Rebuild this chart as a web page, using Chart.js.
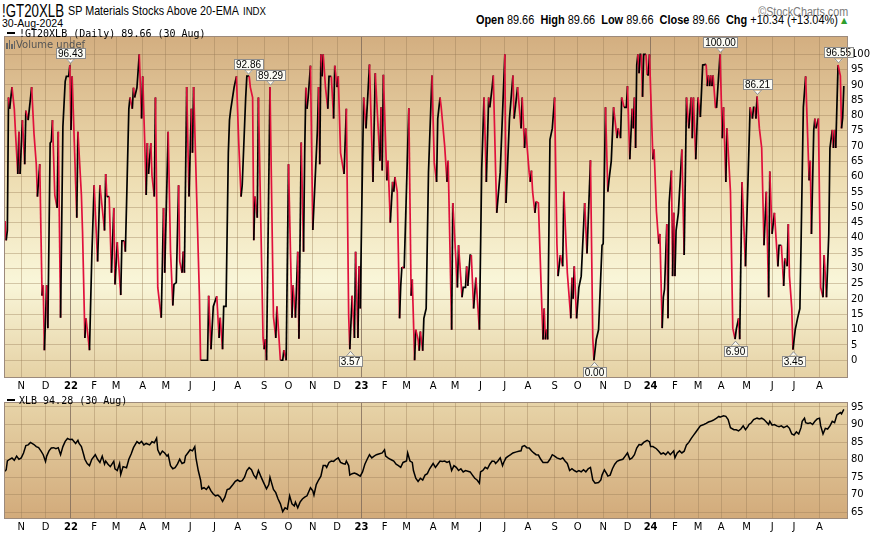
<!DOCTYPE html>
<html>
<head>
<meta charset="utf-8">
<title>!GT20XLB SP Materials Stocks Above 20-EMA</title>
<script src="https://cdn.jsdelivr.net/npm/chart.js"></script>
<style>
  body { margin: 0; width: 873px; height: 533px; overflow: hidden; position: relative; background: #fff; font-family: "DejaVu Sans", sans-serif; }
  .abs { position: absolute; white-space: nowrap; line-height: 1; }
  .hd { font-family: "Liberation Sans", Arial, sans-serif; transform-origin: left top; }
  .hd.r { transform-origin: right top; }
  #sym { left: 2px; top: 2px; font-size: 18px; }
  #name { left: 68px; top: 4px; font-size: 13px; }
  #exch { left: 243px; top: 7px; font-size: 10px; }
  #copy { right: 25px; top: 6px; font-size: 12px; color: #7a7a7a; }
  #date { left: 2px; top: 18px; font-size: 11px; }
  #quote { right: 35px; top: 14px; font-size: 12px; }
  #tri { left: 841px; top: 17px; font-size: 8px; color: #2f9e2f; }
  canvas { position: absolute; }
  #topChart { left: 4px; top: 27px; }
  #xlbChart { left: 4px; top: 393px; }
  .legend { font-family: "DejaVu Sans Mono", monospace; font-size: 10px; color: #000; z-index: 2; }
  .dash { display: inline-block; width: 8px; height: 2px; background: #000; vertical-align: middle; margin-right: 4px; position: relative; top: -1px; }
  #leg1 { left: 7px; top: 29px; }
  #leg2 { left: 6px; top: 40px; font-family: "DejaVu Sans", sans-serif; font-size: 10px; color: #555; }
  #leg3 { left: 7px; top: 396px; }
  .bars { display: inline-block; width: 9px; height: 9px; position: relative; vertical-align: -1px; margin-right: 1px; }
  .bars i { position: absolute; bottom: 0; width: 1.5px; background: #666; }
</style>
</head>
<body>
<div class="abs hd" id="sym" data-w="62">!GT20XLB</div>
<div class="abs hd" id="name" data-w="171">SP Materials Stocks Above 20-EMA</div>
<div class="abs hd" id="exch" data-w="23">INDX</div>
<div class="abs hd r" id="copy" data-w="90">&copy;StockCharts.com</div>
<div class="abs hd" id="date" data-w="61">30-Aug-2024</div>
<div class="abs hd r" id="quote" data-w="362"><b>Open</b> 89.66 &nbsp;<b>High</b> 89.66 &nbsp;<b>Low</b> 89.66 &nbsp;<b>Close</b> 89.66 &nbsp;<b>Chg</b> +10.34 (+13.04%)</div>
<div class="abs" id="tri">&#9650;</div>

<canvas id="topChart" width="869" height="365"></canvas>
<canvas id="xlbChart" width="869" height="140"></canvas>

<div class="abs legend" id="leg1"><span class="dash"></span>!GT20XLB (Daily) 89.66 (30 Aug)</div>
<div class="abs legend" id="leg2"><span class="bars"><i style="left:0;height:6px"></i><i style="left:2.5px;height:9px"></i><i style="left:5px;height:5px"></i><i style="left:7.5px;height:8px"></i></span>Volume undef</div>
<div class="abs legend" id="leg3"><span class="dash"></span>XLB 94.28 (30 Aug)</div>

<script>
// squeeze the header texts to the narrow look of the original
document.querySelectorAll('[data-w]').forEach(el => {
  const w = el.getBoundingClientRect().width;
  el.style.transform = 'scaleX(' + (el.dataset.w / w) + ')';
});

// x values are trading days counted from 12-Oct-2021 (day 725 = 30-Aug-2024)
const monthStarts = [14, 35, 57, 77, 96, 119, 139, 160, 181, 201, 224, 245, 266, 287, 308, 328, 347, 370, 389, 411, 432, 452, 475, 495, 517, 538, 558, 579, 599, 619, 641, 663, 682, 704];
const monthLabels = ['N', 'D', '22', 'F', 'M', 'A', 'M', 'J', 'J', 'A', 'S', 'O', 'N', 'D', '23', 'F', 'M', 'A', 'M', 'J', 'J', 'A', 'S', 'O', 'N', 'D', '24', 'F', 'M', 'A', 'M', 'J', 'J', 'A'];

const breadthTicks = [0, 5, 10, 15, 20, 25, 30, 35, 40, 45, 50, 55, 60, 65, 70, 75, 80, 85, 90, 95, 100];
const xlbTicks = [65, 70, 75, 80, 85, 90, 95];

// !GT20XLB - % of S&P materials stocks above their 20-day EMA
const breadthDays = [
  0, 1, 2, 3, 4, 6, 8, 9, 11, 12, 13, 15, 17, 18, 20, 23, 25, 27, 28, 30,
  32, 33, 34, 36, 37, 39, 40, 41, 43, 45, 46, 48, 50, 52, 53, 55, 56, 57, 58, 62,
  63, 66, 67, 69, 70, 73, 74, 75, 77, 80, 82, 86, 87, 88, 90, 92, 94, 95, 97, 100,
  101, 103, 104, 105, 107, 108, 110, 111, 112, 114, 116, 118, 119, 121, 122, 123, 124, 126, 127, 129,
  130, 132, 135, 137, 138, 141, 143, 145, 146, 148, 150, 151, 153, 154, 155, 157, 159, 161, 162, 163,
  168, 169, 175, 176, 178, 180, 183, 185, 186, 188, 189, 191, 193, 194, 195, 198, 200, 202, 204, 205,
  208, 209, 211, 212, 214, 215, 216, 218, 219, 223, 224, 225, 226, 229, 232, 234, 235, 238, 240, 241,
  243, 245,
  248, 249, 251, 253, 254, 256, 258, 259, 260, 261, 262, 264, 266, 270, 271, 272, 273, 274, 275, 277,
  279, 280, 282, 284, 285, 287, 288, 290, 293, 295, 297, 298, 300, 302, 303, 305, 306, 307, 309, 310,
  312, 315, 318, 320, 324, 325, 326, 327, 330, 331, 333, 335, 336, 337, 339, 341, 342, 343, 345, 349,
  351, 352, 354, 355, 357, 358, 359, 361, 362, 364, 366, 369, 371, 373, 374, 376, 377, 380, 382, 383,
  386, 387, 391, 392, 395, 396, 398, 399, 400, 402, 403, 405, 407, 410, 412, 414, 416, 418, 419, 421,
  422, 424, 425, 428, 432, 433, 436, 439, 440, 443, 446, 447, 449, 450, 453, 454, 455, 456, 458, 459,
  461, 464, 465, 466, 467, 468, 469, 471, 473, 475, 477, 478, 480, 482, 483, 486, 489, 490, 491, 492,
  494, 496, 498, 501, 503, 506, 508, 509, 511, 513, 516, 517, 519, 521, 522, 524, 526, 528, 529, 530,
  532, 533, 535, 537, 538, 540, 542, 543, 544, 545, 546, 547, 548, 549, 550, 551, 552, 554, 555, 556,
  557, 560, 561, 563, 565, 566, 568, 569, 570, 572, 573, 574, 576, 577, 578, 579, 580, 582, 585, 587,
  589, 591, 593, 594, 595, 597, 599, 601, 603, 606, 607, 608, 609, 610, 611, 612, 614, 615, 618, 620,
  621, 623, 624, 627, 629, 631, 632, 634, 635, 637, 640, 644, 646, 647, 648, 649, 650, 652, 654, 656,
  658, 660, 661, 663, 665, 668, 669, 671, 673, 674, 676, 677, 678, 680, 681, 683, 685, 687, 688, 690,
  692, 695, 696, 697, 699, 700, 701, 703, 705, 707, 708, 710, 712, 713, 715, 716, 717, 718, 720, 722,
  723, 724, 725
];
const breadthValues = [
  45.5, 39.2, 42.4, 85.9, 82.2, 89.3, 82.2, 74.7, 60.9, 74.7, 60.9, 78.5, 64.1, 81.6, 78.5, 89.3, 74.2, 64.1, 53.5, 64.1,
  21.1, 24.5, 3.3, 24.5, 10.5, 71.0, 71.5, 78.5, 54.0, 49.8, 74.7, 13.9, 76.3, 91.2, 92.8, 92.8, 96.43, 75.3, 92.8, 46.6,
  74.7, 54.0, 41.8, 7.3, 13.7, 3.3, 19.0, 33.9, 57.2, 32.3, 57.2, 42.4, 60.9, 53.5, 53.5, 28.6, 49.8, 24.8, 38.6, 21.3,
  39.0, 39.0, 35.5, 50.8, 82.2, 85.9, 82.2, 89.1, 85.9, 89.1, 100, 79.0, 92.8, 67.8, 54.0, 71.0, 60.9, 71.0, 60.4, 53.5,
  85.9, 23.8, 13.9, 49.8, 28.6, 74.7, 36.0, 17.9, 24.8, 25.4, 57.2, 32.3, 28.6, 35.5, 28.6, 89.3, 53.5, 82.2, 67.8, 89.3,
  21.1, 0, 0, 21.1, 3.6, 17.6, 20.9, 7.3, 13.9, 3.6, 17.6, 17.6, 67.8, 78.5, 81.8, 89.3, 92.8, 71.0, 53.5, 57.2,
  85.9, 92.86, 92.86, 89.3, 85.9, 39.2, 53.5, 46.6, 85.9, 7.3, 3.6, 6.8, 0, 89.29, 14.2, 7.3, 17.6, 0, 0, 3.3,
  0, 64.1,
  13.9, 24.5, 13.9, 35.5, 7.0, 71.2, 35.5, 67.8, 89.1, 82.2, 85.9, 96.3, 42.6, 75.3, 89.3, 64.1, 100, 92.8, 100, 89.1,
  82.2, 92.8, 92.8, 79.0, 96.3, 89.3, 92.8, 67.8, 60.9, 82.2, 14.8, 3.57, 21.1, 7.3, 35.5, 7.3, 30.7, 16.9, 65.2, 85.9,
  75.8, 96.7, 58.3, 93.8, 65.2, 82.7, 62.0, 93.3, 58.8, 65.2, 45.0, 58.3, 55.1, 59.9, 55.1, 13.7, 24.3, 30.5, 30.1, 82.4,
  21.1, 26.4, 0, 10.0, 6.8, 3.1, 9.4, 3.1, 13.7, 16.9, 61.5, 93.1, 64.6, 58.3, 79.0, 85.9, 82.7, 70.0, 58.3, 65.2,
  10.0, 51.4, 23.8, 37.6, 20.6, 23.8, 23.8, 30.7, 24.3, 34.4, 34.4, 16.9, 27.0, 10.0, 62.5, 85.9, 58.3, 85.9, 82.7, 89.1,
  93.1, 62.0, 48.2, 61.5, 100, 51.4, 79.0, 93.1, 79.0, 89.3, 75.8, 85.9, 69.4, 75.8, 61.5, 58.3, 62.0, 55.1, 48.2, 51.9,
  51.4, 16.9, 6.8, 16.9, 6.8, 10.0, 6.8, 72.1, 75.8, 85.9, 38.1, 27.5, 34.4, 30.7, 55.1, 28.6, 13.7, 27.0, 20.1, 30.7,
  13.7, 23.8, 27.5, 51.4, 34.9, 65.4, 7.3, 0, 6.8, 10.0, 37.6, 38.1, 82.7, 55.1, 58.8, 65.2, 82.7, 75.8, 72.6, 75.8,
  72.6, 85.9, 82.7, 82.7, 89.6, 65.7, 82.2, 75.8, 85.9, 69.4, 96.5, 100, 93.8, 100, 100, 86.1, 100, 100, 93.3, 93.3,
  100, 65.7, 68.9, 48.7, 38.1, 41.3, 10.5, 20.6, 23.2, 44.5, 13.7, 51.4, 62.0, 27.5, 48.2, 27.5, 42.4, 48.2, 68.9, 34.4,
  85.9, 75.8, 85.9, 72.6, 85.9, 65.7, 85.9, 79.5, 96.5, 96.7, 89.6, 93.1, 89.6, 93.1, 89.6, 93.1, 82.7, 82.5, 100, 72.6,
  82.7, 58.3, 75.8, 55.1, 10.5, 6.9, 10.0, 13.7, 6.9, 58.3, 30.7, 82.7, 79.0, 82.7, 82.7, 79.0, 86.21, 75.8, 69.4, 37.6,
  55.1, 20.6, 61.7, 41.3, 48.2, 30.7, 37.6, 37.6, 24.3, 33.3, 30.7, 44.5, 27.5, 16.9, 3.45, 10.0, 13.7, 16.9, 37.6, 82.7,
  92.8, 58.8, 65.2, 41.3, 75.3, 79.0, 75.8, 79.0, 23.8, 20.6, 34.4, 20.6, 41.3, 69.4, 75.3, 69.4, 75.3, 69.4, 96.55, 93.0,
  75.8, 79.32, 89.66
];

// XLB closes
const xlbDays = [
  0, 1, 2, 4, 6, 8, 10, 12, 14, 16, 18, 20, 22, 25, 27, 29, 31, 33, 35, 36,
  38, 40, 42, 44, 46, 48, 50, 52, 54, 56, 58, 61, 63, 64, 66, 68, 69, 71, 73, 75,
  78, 80, 82, 84, 86, 87, 89, 91, 94, 95, 97, 99, 100, 102, 105, 107, 109, 111, 114, 116,
  118, 120, 122, 125, 127, 129, 131, 132, 134, 136, 138, 140, 141, 143, 145, 147, 149, 151, 153, 155,
  156, 158, 160, 162, 164, 165, 167, 169, 170, 172, 174, 176, 178, 180, 182, 184, 186, 188, 190, 192,
  194, 197, 199, 201, 203, 205, 207, 209, 211, 213, 215, 217, 219, 221, 223, 226, 228, 229, 230, 232,
  234, 236, 238, 240, 242, 244, 246, 248, 250, 251, 253, 255, 257, 259, 261, 264, 266, 267, 269, 271,
  273, 275, 277, 278, 280, 282, 284, 286, 288, 290, 292, 294, 295, 297, 298, 300, 302, 304, 307, 309,
  311, 313, 315, 317, 319, 321, 323, 326, 328, 329, 331, 333, 336, 338, 340, 342, 344, 347, 348, 350,
  352, 353, 355, 357, 359, 361, 363, 365, 367, 370, 372, 374, 376, 378, 380, 382, 384, 385, 386, 388,
  390, 392, 394, 396, 398, 400, 402, 404, 406, 408, 410, 411, 413, 415, 417, 419, 421, 423, 424, 426,
  428, 430, 431, 433, 435, 437, 439, 442, 444, 446, 447, 449, 451, 453, 455, 457, 459, 461, 463, 465,
  467, 469, 471, 473, 475, 477, 480, 482, 484, 486, 488, 490, 492, 494, 496, 498, 500, 502, 504, 506,
  507, 508, 510, 513, 515, 516, 518, 520, 521, 523, 525, 527, 529, 531, 534, 536, 538, 540, 542, 544,
  546, 548, 550, 552, 555, 557, 558, 560, 563, 565, 567, 569, 571, 573, 575, 578, 579, 581, 583, 585,
  587, 589, 591, 593, 595, 597, 599, 601, 604, 606, 608, 610, 612, 615, 617, 618, 621, 623, 625, 627,
  630, 632, 634, 636, 638, 640, 642, 643, 645, 647, 650, 652, 654, 656, 658, 660, 661, 663, 665, 667,
  669, 671, 673, 676, 678, 680, 682, 684, 686, 688, 689, 691, 692, 694, 696, 698, 700, 702, 704, 705,
  707, 709, 711, 713, 715, 717, 719, 722, 723, 725
];
const xlbValues = [
  76.7, 77.1, 79.6, 80.1, 80.5, 79.8, 81.0, 80.1, 80.5, 81.9, 84.0, 84.2, 84.9, 84.3, 83.7, 83.4, 82.5, 81.4, 79.5, 81.0,
  82.5, 83.3, 83.4, 83.1, 83.4, 81.4, 83.7, 85.2, 86.0, 85.7, 85.8, 84.6, 85.5, 84.6, 83.7, 81.4, 80.1, 78.9, 78.3, 80.1,
  81.4, 80.1, 79.2, 81.0, 78.7, 79.6, 78.7, 78.0, 79.5, 77.4, 76.9, 78.9, 75.8, 78.0, 77.7, 80.1, 81.6, 83.4, 85.1, 84.6,
  85.2, 84.2, 84.6, 84.2, 85.1, 84.8, 86.1, 82.8, 81.4, 82.4, 81.9, 81.0, 81.4, 78.3, 77.4, 77.7, 78.7, 80.1, 78.9, 79.2,
  81.0, 81.9, 82.8, 82.5, 83.7, 80.5, 76.9, 74.2, 71.7, 72.0, 71.5, 72.4, 71.1, 70.2, 69.7, 69.9, 69.3, 68.1, 69.3, 71.5,
  71.7, 72.9, 73.8, 74.2, 73.8, 74.0, 75.0, 76.9, 77.7, 77.1, 75.6, 74.7, 76.9, 75.3, 73.8, 71.7, 72.9, 75.0, 73.8, 71.5,
  70.6, 68.8, 67.4, 65.2, 66.3, 65.9, 69.7, 67.4, 66.8, 67.9, 66.3, 67.9, 68.8, 69.3, 69.7, 72.0, 71.1, 69.9, 72.9, 74.2,
  75.3, 78.3, 78.3, 77.8, 79.2, 79.6, 79.5, 80.1, 80.5, 79.2, 78.9, 78.7, 79.6, 78.3, 75.6, 76.0, 76.2, 75.9, 75.3, 76.5,
  78.7, 80.1, 81.4, 80.5, 81.0, 81.4, 81.6, 81.9, 82.8, 81.0, 80.5, 80.1, 79.6, 78.7, 78.3, 77.8, 79.2, 79.6, 81.9, 79.6,
  79.2, 76.9, 74.7, 73.8, 74.7, 74.2, 75.6, 76.0, 77.4, 78.9, 77.8, 78.7, 79.6, 79.5, 79.6, 79.2, 79.5, 78.3, 76.9, 78.3,
  77.8, 76.9, 77.4, 76.5, 76.9, 76.7, 76.5, 75.6, 74.7, 74.2, 73.3, 76.5, 76.9, 77.8, 77.4, 78.7, 79.6, 79.5, 78.9, 79.6,
  80.5, 78.3, 79.2, 80.5, 81.0, 81.4, 81.9, 82.2, 82.4, 82.5, 83.7, 84.0, 83.4, 83.3, 82.5, 81.9, 81.4, 81.3, 80.1, 79.2,
  79.2, 79.2, 80.1, 81.4, 81.0, 80.5, 80.1, 80.5, 79.6, 78.9, 76.9, 77.4, 76.9, 76.5, 76.9, 76.5, 77.1, 76.5, 77.4, 77.8,
  76.0, 74.2, 73.3, 73.5, 74.2, 75.6, 77.1, 76.0, 75.3, 75.6, 77.4, 78.7, 79.5, 79.8, 80.1, 81.0, 81.9, 80.1, 80.5, 81.4,
  83.3, 84.3, 84.2, 84.9, 85.5, 85.1, 83.7, 83.7, 83.1, 82.4, 81.6, 81.9, 81.4, 82.2, 81.4, 82.5, 80.5, 81.9, 82.5, 81.9,
  82.4, 84.2, 84.9, 86.0, 86.9, 87.8, 88.7, 89.6, 90.0, 90.3, 90.7, 90.9, 91.2, 91.8, 92.3, 92.1, 92.5, 92.3, 91.4, 89.1,
  88.5, 88.5, 88.2, 88.7, 89.6, 88.5, 89.4, 90.0, 90.5, 91.4, 91.8, 91.6, 91.8, 91.4, 90.7, 90.0, 90.9, 89.8, 90.0, 89.6,
  89.4, 89.6, 89.1, 89.6, 88.9, 87.3, 87.0, 87.9, 87.3, 89.1, 90.9, 91.8, 90.5, 90.3, 90.5, 90.0, 90.9, 91.6, 91.8, 89.6,
  87.3, 88.9, 88.7, 89.6, 90.9, 90.5, 92.7, 93.4, 93.0, 94.28
];

// flagged highs / lows on the breadth line
const noteDays = [56, 210, 229, 298, 509, 618, 631, 650, 681, 720];
const noteValues = [96.43, 92.86, 89.29, 3.57, 0, 100, 6.9, 86.21, 3.45, 96.55];
const noteTexts = ['96.43', '92.86', '89.29', '3.57', '0.00', '100.00', '6.90', '86.21', '3.45', '96.55'];
const noteAbove = [true, true, true, false, false, true, false, true, false, true];

const RED = '#e0103c';
const GRID = 'rgba(150, 120, 85, 0.38)';
const YEAR_GRID = 'rgba(120, 100, 85, 0.75)';
const isYear = i => /^\d/.test(monthLabels[i]);

function panelBg(stops) {
  return {
    id: 'panelBg',
    beforeDraw(chart) {
      const { ctx, chartArea: a } = chart;
      const g = ctx.createLinearGradient(0, a.top, 0, a.bottom);
      stops.forEach(s => g.addColorStop(s[0], s[1]));
      ctx.save();
      ctx.fillStyle = g;
      ctx.fillRect(a.left, a.top, a.right - a.left, a.bottom - a.top);
      ctx.restore();
    },
    afterDraw(chart) {
      const { ctx, chartArea: a } = chart;
      ctx.save();
      ctx.strokeStyle = '#9c8a7c';
      ctx.lineWidth = 1;
      ctx.strokeRect(a.left + 0.5, a.top + 0.5, a.right - a.left - 1, a.bottom - a.top - 1);
      ctx.restore();
    }
  };
}

const peakLabels = {
  id: 'peakLabels',
  afterDatasetsDraw(chart) {
    const { ctx, scales: { x, y } } = chart;
    ctx.save();
    ctx.font = '10px "Liberation Sans", Arial, sans-serif';
    ctx.textAlign = 'center';
    ctx.textBaseline = 'middle';
    noteDays.forEach((d, i) => {
      const px = Math.round(x.getPixelForValue(d)) + 0.5;
      const py = y.getPixelForValue(noteValues[i]);
      const dir = noteAbove[i] ? -1 : 1;
      const w = Math.ceil(ctx.measureText(noteTexts[i]).width) + 4;
      const h = 11;
      const tip = py + dir * 2;
      const base = py + dir * 6.5;
      const top = noteAbove[i] ? base - h : base;
      ctx.fillStyle = '#fbfbf4';
      ctx.strokeStyle = '#8d8d8d';
      ctx.lineWidth = 1;
      ctx.fillRect(Math.round(px - w / 2), Math.round(top), w, h);
      ctx.strokeRect(Math.round(px - w / 2) + 0.5, Math.round(top) + 0.5, w - 1, h - 1);
      ctx.beginPath();
      ctx.moveTo(px - 4, base - dir);
      ctx.lineTo(px, tip);
      ctx.lineTo(px + 4, base - dir);
      ctx.closePath();
      ctx.fill();
      ctx.beginPath();
      ctx.moveTo(px - 4, base);
      ctx.lineTo(px, tip);
      ctx.lineTo(px + 4, base);
      ctx.stroke();
      ctx.fillStyle = '#000';
      ctx.fillText(noteTexts[i], px, Math.round(top) + h / 2 + 0.5);
    });
    ctx.restore();
  }
};

function xScale() {
  return {
    type: 'linear',
    min: -0.9,
    max: 728.6,
    afterBuildTicks: ax => { ax.ticks = monthStarts.map(v => ({ value: v })); },
    afterFit: ax => { ax.height = 14; },
    border: { display: false },
    grid: { color: c => isYear(c.index) ? YEAR_GRID : GRID, lineWidth: 1, drawTicks: false },
    ticks: {
      autoSkip: false, maxRotation: 0, minRotation: 0, padding: 2, color: '#000',
      callback: (v, i) => monthLabels[i],
      font: c => ({ family: '"DejaVu Sans", sans-serif', size: 10, weight: isYear(c.index) ? 'bold' : 'normal' })
    }
  };
}

function yScale(min, max, ticks) {
  return {
    position: 'right',
    min: min,
    max: max,
    afterBuildTicks: ax => { ax.ticks = ticks.map(v => ({ value: v })); },
    afterFit: ax => { ax.width = 25; },
    border: { display: false },
    grid: { color: GRID, lineWidth: 1, drawTicks: false },
    ticks: { padding: 3, color: '#000', font: { family: '"DejaVu Sans", sans-serif', size: 10 } }
  };
}

const common = {
  animation: false,
  responsive: false,
  maintainAspectRatio: false,
  layout: { padding: 0 },
  plugins: { legend: { display: false }, tooltip: { enabled: false } },
  elements: { point: { radius: 0 }, line: { tension: 0 } }
};

new Chart(document.getElementById('topChart'), {
  type: 'line',
  data: {
    datasets: [{
      data: breadthDays.map((d, i) => ({ x: d, y: breadthValues[i] })),
      borderWidth: 1.7,
      borderColor: '#000',
      segment: { borderColor: c => c.p1.parsed.y >= c.p0.parsed.y ? '#000' : RED }
    }]
  },
  options: Object.assign({}, common, {
    scales: { x: xScale(), y: yScale(-5.8, 106, breadthTicks) }
  }),
  plugins: [panelBg([[0, '#d3ae80'], [0.4, '#eddcb0'], [0.72, '#f9f6d9'], [1, '#e5d1a4']]), peakLabels]
});

new Chart(document.getElementById('xlbChart'), {
  type: 'line',
  data: {
    datasets: [{
      data: xlbDays.map((d, i) => ({ x: d, y: xlbValues[i] })),
      borderWidth: 1.5,
      borderColor: '#000'
    }]
  },
  options: Object.assign({}, common, {
    scales: { x: xScale(), y: yScale(63.1, 96.4, xlbTicks) }
  }),
  plugins: [panelBg([[0, '#e7d4a8'], [1, '#d2aa7a']])]
});
</script>
</body>
</html>
